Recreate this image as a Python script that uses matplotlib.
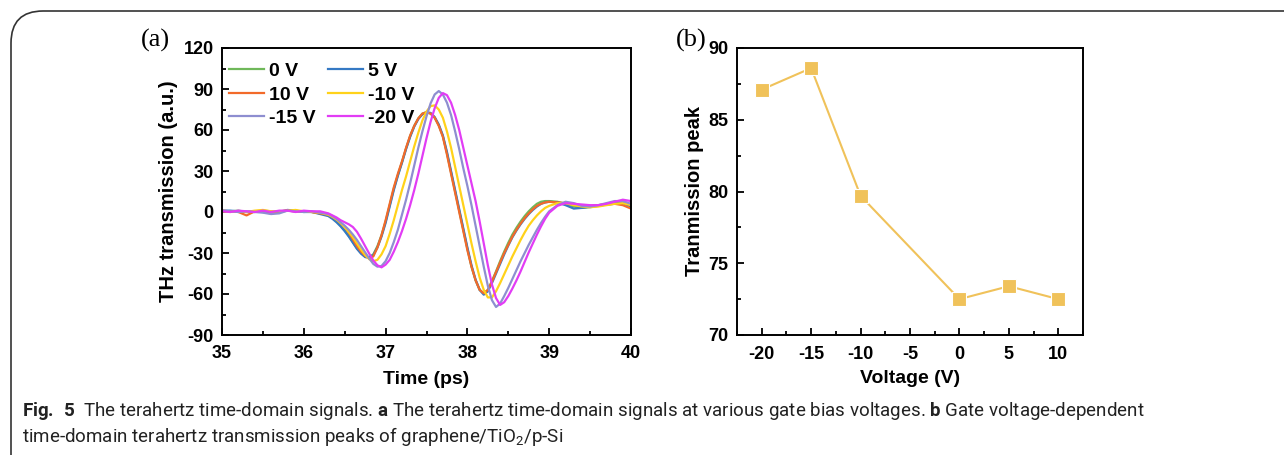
import numpy as np
import matplotlib
matplotlib.use("Agg")
import matplotlib.pyplot as plt
from matplotlib import font_manager as fm
from matplotlib.patches import FancyBboxPatch
from matplotlib.ticker import MultipleLocator

# sample times (ps): coarse on the flat parts, finer across the pulse
t = np.round(np.concatenate([np.arange(35.0, 36.25, 0.1),
                             np.arange(36.3, 39.025, 0.05),
                             np.arange(39.1, 40.05, 0.1)]), 2)

sig_0v = [0.5, 0.5, 1, 0, 0, 1, 0.5, 0, 1, 0.5, 0.5, 0, -1,
          -2.5, -4.5, -7, -10, -13.5, -17.5, -22, -26.5, -30, -32.5, -33, -31, -25, -17, -7,
          5, 17, 27, 36.5, 46.5, 55.5, 63, 68.5, 72, 73, 72, 69, 63.5, 55.5, 43, 29, 15, 1,
          -13, -27, -40, -50, -57, -59.5, -57, -50.5, -43.5, -36, -29, -22.5, -16.5, -11.5,
          -7, -3, 0.5, 3.5, 6, 7.5, 8, 8,
          7.5, 6, 4, 3, 3.5, 4.5, 5.5, 6.5, 6.5, 4.5]
sig_5v = [1, 1, 0.5, 0, 0.5, 0, -1, 0, 1.5, 1, 0, 0, -1.5,
          -3, -5, -7.5, -10.5, -14, -18, -22.5, -27, -30.5, -33, -33.5, -31.5, -26, -18, -8,
          4, 16, 26.5, 36, 46, 55, 62.5, 68, 71.5, 73, 72.5, 69.5, 64, 56, 44, 30, 16, 2,
          -12, -26, -39, -49.5, -57, -60.5, -58, -52, -45, -38, -31, -24.5, -18.5, -13.5,
          -9, -5, -1.5, 1.5, 4, 6, 7, 7.5,
          7, 5, 2.5, 3, 4, 5, 5.5, 6, 6.5, 4]
sig_10v = [1, 0.5, 0, -2.5, 0.5, 1, 0, 0.5, 1, 0.5, 0.5, 0, -1,
           -2, -3.5, -5.5, -8, -11, -15, -20, -25, -29, -32, -34, -32.5, -26, -17, -6,
           6, 18, 28, 37, 47, 56, 63, 68.5, 72, 73, 72, 69, 63, 55, 42, 28, 14, 0,
           -14, -28, -40, -50, -57, -59.5, -57, -51, -44, -37, -30, -24, -18, -13,
           -8.5, -4.5, -1, 2, 4.5, 6, 7, 7.5,
           7, 6.5, 5.5, 4.5, 4.5, 5, 5.5, 6, 5, 2.5]
sig_m10v = [0.5, 0, 0.5, 0, 1, 1.5, 0.5, 0.5, 1, 1.5, 0.5, 0, -0.5,
            -2, -3.5, -5.5, -8, -11, -14.5, -18.5, -23, -27.5, -31.5, -34.5, -36, -35, -31, -25,
            -16, -6, 5, 16, 26, 37, 48, 58, 67, 73.5, 77.5, 78, 75, 69, 59, 47, 33, 19,
            5, -9, -23, -36, -48, -57, -62.5, -62.5, -58, -52, -45.5, -39, -32.5, -26.5,
            -20.5, -15, -10, -6, -2.5, 0.5, 3, 4.5,
            6.5, 6.5, 5, 4, 3.5, 4, 5, 6, 6.5, 5]
sig_m15v = [1, 0.5, 0, 0.5, 0, -0.5, -1.5, -1, 1, 0.5, 0, 0.5, -0.5,
            -1.5, -3, -5, -7.5, -10, -13, -16.5, -20.5, -25, -29.5, -34, -38, -40, -39.5, -36,
            -30, -22, -13, -2, 9, 21, 34, 47, 59, 70, 79.5, 86, 88.5, 86, 80, 71, 59, 46,
            32, 19, 5, -10, -25, -40, -54, -64.5, -69.5, -67, -61.5, -55.5, -49, -42.5,
            -36, -30, -24, -18.5, -13, -8, -3.5, 0.5,
            5, 7.5, 6.5, 4.5, 4, 5, 6.5, 8, 8, 6]
sig_m20v = [0.5, 0, 1, 0.5, 0, 1, 0, 1, 1, 0, 1, 0.5, 0.5,
            -1, -2.5, -4, -6, -7.5, -9, -11, -14.5, -19.5, -25, -30.5, -35.5, -39, -40.5, -38.5,
            -35, -29, -22, -14, -5, 5, 16, 28, 41, 54, 66, 76, 83.5, 87, 85.5, 80, 71, 60,
            47, 34, 21, 8, -7, -23, -39, -53, -63, -68, -66, -61.5, -56, -50,
            -43.5, -36.5, -29.5, -23, -16.5, -10.5, -5, -0.5,
            4.5, 6.5, 6, 5.5, 5, 5, 6, 7.5, 9, 8]

labels = ["0 V", "5 V", "10 V", "-10 V", "-15 V", "-20 V"]
colors = ["#6fb85a", "#3579c4", "#f26a2a", "#ffd21a", "#8e8ed0", "#e23cf5"]

voltage = [-20, -15, -10, 0, 5, 10]
peak = [87.1, 88.6, 79.7, 72.5, 73.4, 72.5]

names = {f.name for f in fm.fontManager.ttflist}
cap_font = "Liberation Sans Narrow" if "Liberation Sans Narrow" in names else "Roboto"

plt.rcParams["font.family"] = ["Liberation Sans", "DejaVu Sans"]
plt.rcParams["axes.unicode_minus"] = False
plt.rcParams["mathtext.fontset"] = "custom"
plt.rcParams["mathtext.rm"] = cap_font
plt.rcParams["mathtext.bf"] = cap_font + ":bold"

fig = plt.figure(figsize=(12.84, 4.55), dpi=100)

# rounded frame around the figure
frame = FancyBboxPatch((11 / 1284, -0.2), 1.2, 1.2 - 11 / 455,
                       boxstyle="round,pad=0,rounding_size=0.025",
                       transform=fig.transFigure, fill=False,
                       edgecolor="#333333", lw=1.2, mutation_aspect=1284 / 455)
fig.patches.append(frame)


def style_axes(ax):
    for s in ax.spines.values():
        s.set_linewidth(1.4)
    ax.tick_params(which="both", direction="in", top=False, right=False,
                   labelsize=13, width=1.3)
    ax.tick_params(which="major", length=5)
    ax.tick_params(which="minor", length=3)
    for lab in ax.get_xticklabels() + ax.get_yticklabels():
        lab.set_fontweight("bold")


# (a) time-domain signals
ax1 = fig.add_axes([222 / 1284, 1 - 335 / 455, 409 / 1284, 287 / 455])
series = [sig_0v, sig_5v, sig_10v, sig_m10v, sig_m15v, sig_m20v]
lines = []
for y, lab, c in zip(series, labels, colors):
    ln, = ax1.plot(t, y, color=c, lw=1.6, label=lab)
    lines.append(ln)
ax1.set_xlim(35, 40)
ax1.set_ylim(-90, 120)
ax1.xaxis.set_major_locator(MultipleLocator(1))
ax1.xaxis.set_minor_locator(MultipleLocator(0.5))
ax1.yaxis.set_major_locator(MultipleLocator(30))
ax1.yaxis.set_minor_locator(MultipleLocator(15))
style_axes(ax1)
ax1.tick_params(axis="x", pad=7)
ax1.tick_params(axis="y", pad=6)
ax1.set_xlabel("Time (ps)", fontsize=14, fontweight="bold", labelpad=7)
ax1.set_ylabel("THz transmission (a.u.)", fontsize=14.5, fontweight="bold", labelpad=4)
order = [0, 2, 4, 1, 3, 5]
ax1.legend([lines[i] for i in order], [labels[i] for i in order], ncol=2,
           loc="upper left", bbox_to_anchor=(-0.012, 0.99), frameon=False,
           prop={"weight": "bold", "size": 14}, handlelength=1.8,
           handletextpad=0.25, columnspacing=0.65, labelspacing=0.3,
           borderaxespad=0.2)
fig.text(141 / 1284, 1 - 40 / 455, "(a)", family="Liberation Serif",
         fontsize=19, va="center", ha="left")

# (b) transmission peak vs voltage
ax2 = fig.add_axes([737 / 1284, 1 - 335 / 455, 346 / 1284, 287 / 455])
ax2.plot(voltage, peak, color="#f0c25a", lw=1.5, marker="s", markersize=10,
         markeredgecolor="white", markeredgewidth=0.8)
ax2.set_xlim(-22.5, 12.5)
ax2.set_ylim(70, 90)
ax2.set_xticks(voltage + [-5])
ax2.xaxis.set_minor_locator(MultipleLocator(2.5))
ax2.yaxis.set_major_locator(MultipleLocator(5))
ax2.yaxis.set_minor_locator(MultipleLocator(2.5))
style_axes(ax2)
ax2.tick_params(axis="x", pad=8)
ax2.tick_params(axis="y", pad=6)
ax2.set_xlabel("Voltage (V)", fontsize=14, fontweight="bold", labelpad=5)
ax2.set_ylabel("Tranmission peak", fontsize=14.5, fontweight="bold", labelpad=3)
fig.text(676 / 1284, 1 - 40 / 455, "(b)", family="Liberation Serif",
         fontsize=19, va="center", ha="left")

# caption
cap1 = (r"$\mathbf{Fig.\ 5}$  The terahertz time-domain signals. $\mathbf{a}$ The terahertz "
        r"time-domain signals at various gate bias voltages. $\mathbf{b}$ Gate voltage-dependent")
cap2 = r"time-domain terahertz transmission peaks of graphene/TiO$_2$/p-Si"
fig.text(22 / 1284, 1 - 411 / 455, cap1, family=cap_font, fontsize=13.5,
         va="center", ha="left", color="#222222")
fig.text(22 / 1284, 1 - 437 / 455, cap2, family=cap_font, fontsize=13.5,
         va="center", ha="left", color="#222222")

fig.savefig("out.png", dpi=100)
